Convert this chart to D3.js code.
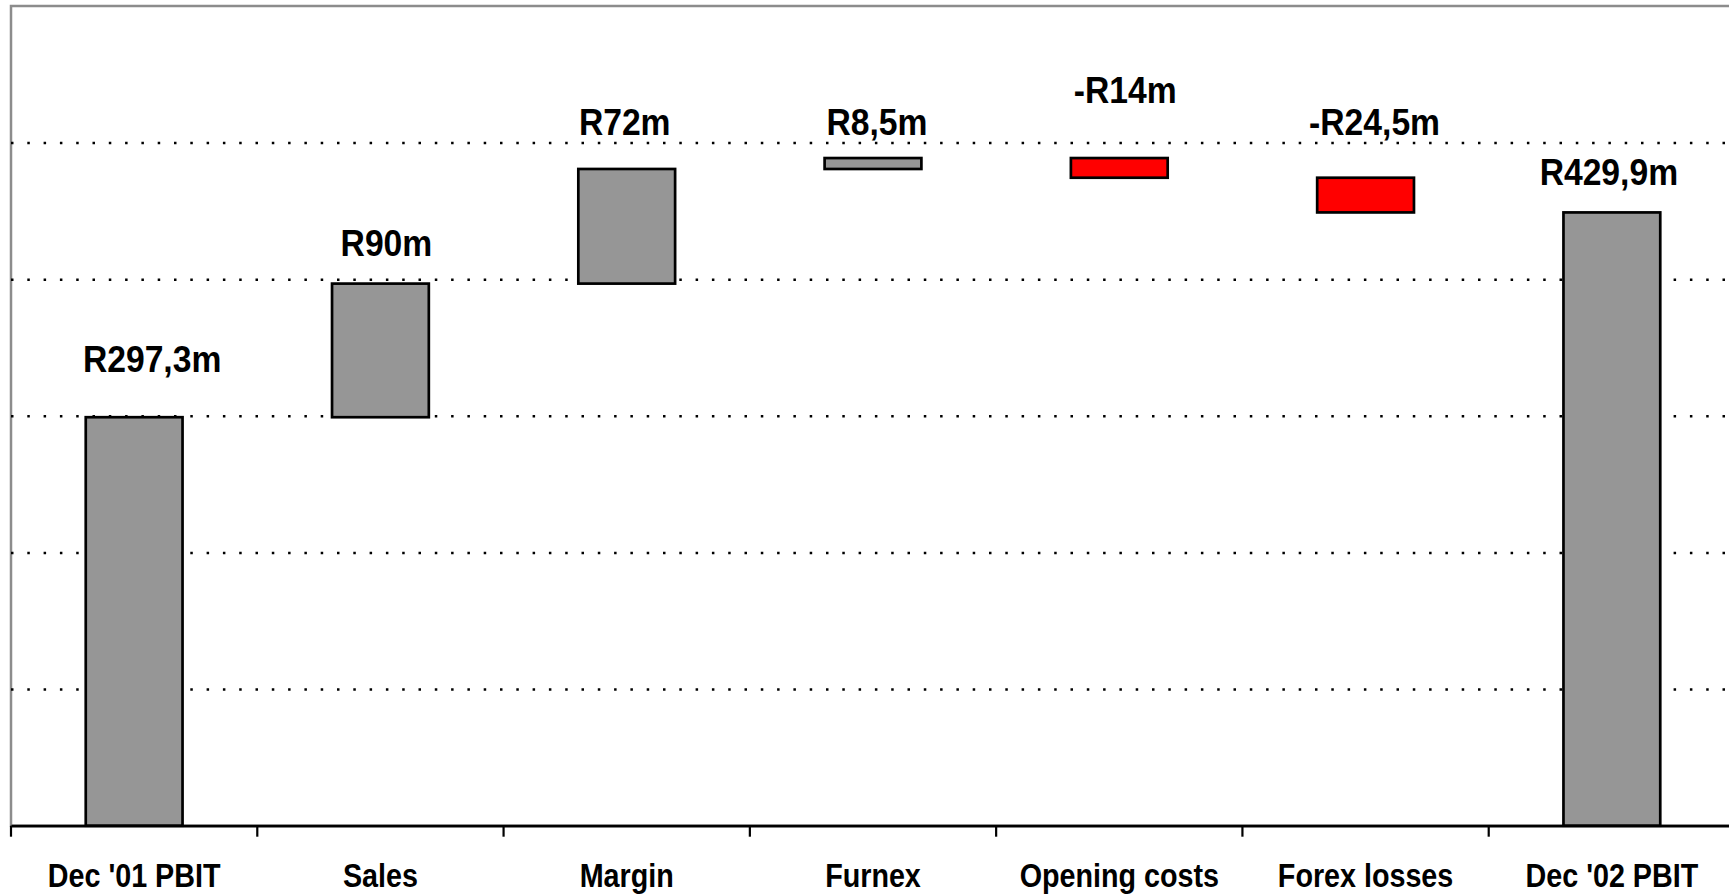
<!DOCTYPE html>
<html>
<head>
<meta charset="utf-8">
<script src="https://cdn.jsdelivr.net/npm/d3@7/dist/d3.min.js"></script>
<style>
  body { margin: 0; background: #fff; }
  svg { display: block; }
  text { font-family: "Liberation Sans", Arial, sans-serif; font-weight: bold; fill: #000; }
</style>
</head>
<body>
<div id="chart"></div>
<script>
// categories along the bottom
var categories = ["Dec '01 PBIT", "Sales", "Margin", "Furnex", "Opening costs", "Forex losses", "Dec '02 PBIT"];
// step values (first one is the opening total, last one is the closing total)
var steps = [299, 97.8, 83.9, 8, -14.4, -25.4];
var isTotal = [true, false, false, false, false, false, true];
// text shown above each bar
var valueLabels = ["R297,3m", "R90m", "R72m", "R8,5m", "-R14m", "-R24,5m", "R429,9m"];
// where each label sits, in chart units (labels were placed by hand in the original)
var labelAt = [332, 417, 505.6, 505.6, 528.8, 505.6, 469];
var labelNudge = [18, 6, -2, 4, 6, 9, -3];
// y axis gridlines
var gridValues = [100, 200, 300, 400, 500];

var W = 1729, H = 894;
var margin = {left: 11, top: 6},
    plotRight = 1735, // plot area runs a little past the picture edge
    axisY = 825.7;

// build the waterfall rows
var rows = [];
var run = 0;
categories.forEach(function(c, i) {
  var lo, hi, v;
  if (isTotal[i]) {
    v = (i == 0) ? steps[0] : run;
    lo = 0; hi = v;
    run = v;
  } else {
    v = steps[i];
    lo = Math.min(run, run + v);
    hi = Math.max(run, run + v);
    run = run + v;
  }
  rows.push({cat: c, lo: lo, hi: hi, v: v, total: isTotal[i], label: valueLabels[i], at: labelAt[i], nudge: labelNudge[i]});
});

var x = d3.scaleBand().domain(categories).range([margin.left, plotRight]).paddingInner(0).paddingOuter(0);
var y = d3.scaleLinear().domain([0, 600]).range([axisY, margin.top]);
var barW = x.bandwidth() * 0.393;

var svg = d3.select("#chart").append("svg")
  .attr("width", W)
  .attr("height", H);

// plot area frame (gray)
svg.append("rect")
  .attr("x", margin.left)
  .attr("y", margin.top)
  .attr("width", plotRight - margin.left)
  .attr("height", axisY - margin.top)
  .attr("fill", "none")
  .attr("stroke", "#8c8c8c")
  .attr("stroke-width", 2.5);

// dotted gridlines
svg.append("g")
  .attr("class", "grid")
  .attr("transform", "translate(" + margin.left + ",0)")
  .call(d3.axisLeft(y).tickValues(gridValues).tickSize(-(plotRight - margin.left)).tickFormat(""))
  .call(function(g) { g.select(".domain").remove(); })
  .selectAll("line")
  .attr("stroke", "#000")
  .attr("stroke-width", 2.5)
  .attr("stroke-dasharray", "2.5,13.8");

// bars
svg.selectAll("rect.bar")
  .data(rows)
  .enter().append("rect")
  .attr("class", "bar")
  .attr("x", function(d) { return x(d.cat) + (x.bandwidth() - barW) / 2; })
  .attr("y", function(d) { return y(d.hi); })
  .attr("width", barW)
  .attr("height", function(d) { return y(d.lo) - y(d.hi); })
  .attr("fill", function(d) { return (!d.total && d.v < 0) ? "#ff0000" : "#969696"; })
  .attr("stroke", "#000")
  .attr("stroke-width", 2.7);

// category axis
var xAxis = d3.axisBottom(x).tickSize(0).tickSizeOuter(0);
var gx = svg.append("g")
  .attr("class", "x axis")
  .attr("transform", "translate(0," + axisY + ")")
  .call(xAxis);
gx.select(".domain")
  .attr("stroke", "#000")
  .attr("stroke-width", 2.7);
gx.selectAll(".tick line").remove();
gx.selectAll(".tick text")
  .attr("y", 0)
  .attr("dy", 0)
  .attr("font-size", 33)
  .attr("transform", "translate(0,61.5) scale(0.87,1)");

// ticks sit between the categories, not under them
var bounds = categories.map(function(c) { return x(c); });
gx.selectAll("line.sep")
  .data(bounds)
  .enter().append("line")
  .attr("class", "sep")
  .attr("x1", function(d) { return d; })
  .attr("x2", function(d) { return d; })
  .attr("y1", 0)
  .attr("y2", 11)
  .attr("stroke", "#000")
  .attr("stroke-width", 2.2);

// value labels
svg.selectAll("text.val")
  .data(rows)
  .enter().append("text")
  .attr("class", "val")
  .attr("text-anchor", "middle")
  .attr("font-size", 37)
  .attr("transform", function(d) {
    return "translate(" + (x(d.cat) + x.bandwidth() / 2 + d.nudge) + "," + y(d.at) + ") scale(0.91,1)";
  })
  .text(function(d) { return d.label; });
</script>
</body>
</html>
